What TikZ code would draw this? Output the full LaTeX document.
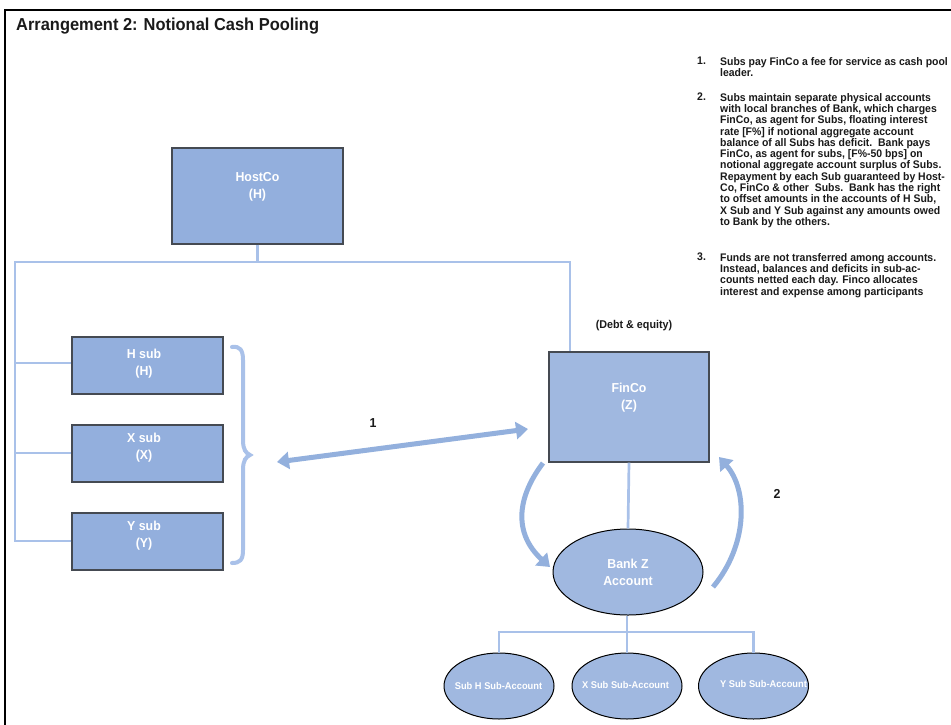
\documentclass[tikz,border=0pt]{standalone}
\usepackage{fontspec}
\setmainfont{Liberation Sans}[FakeStretch=0.95]
\usetikzlibrary{arrows.meta,shapes.geometric}
\definecolor{boxA}{HTML}{93AFDD}
\definecolor{boxB}{HTML}{A0B8E0}
\definecolor{conn}{HTML}{A9C1E9}
\definecolor{arr}{HTML}{93B0DD}
\definecolor{edge}{HTML}{454A52}
\definecolor{ink}{HTML}{1A1A1A}
\begin{document}
\begin{tikzpicture}[x=1pt,y=-1pt,
  box/.style={draw=edge, line width=1.3pt, fill=boxA, inner sep=0pt},
  oval/.style={ellipse, draw=black, line width=1pt, fill=boxB, inner sep=0pt},
  boxtext/.style={text=white, font=\fontsize{13}{17}\selectfont\bfseries, align=center, inner sep=0pt},
  smalltext/.style={text=white, font=\fontsize{9.8}{11}\selectfont\bfseries, inner sep=0pt},
  conn/.style={draw=conn, line width=2.7pt},
  bigarrow/.style={draw=arr, line width=5pt, -{Triangle[width=17pt,length=12pt]}},
  note/.style={text=ink, font=\fontsize{11}{11.3}\selectfont\bfseries, align=left, inner sep=0pt, anchor=north west},
  lbl/.style={text=ink, font=\fontsize{13}{15}\selectfont\bfseries, inner sep=0pt}]
\useasboundingbox (0,0) rectangle (951,724);
\fill[white] (0,0) rectangle (951,724);
% frame
\draw[black, line width=2.5pt] (5,726) -- (5,10) -- (953,10);
\node[anchor=west, text=ink, font=\fontsize{17.3}{19}\selectfont\bfseries, inner sep=0pt] (title) at (16,26) {Arrangement 2: Notional Cash Pooling};

% boxes
\node[box, minimum width=171pt, minimum height=96pt] (host) at (257.5,196) {};
\node[boxtext] (hostT) at (257.5,187) {HostCo\\(H)};
\node[box, minimum width=151pt, minimum height=57pt] (hsub) at (147.5,365.5) {};
\node[boxtext] (hsubT) at (144,363.5) {H sub\\(H)};
\node[box, minimum width=151pt, minimum height=57pt] (xsub) at (147.5,453.5) {};
\node[boxtext] (xsubT) at (144,448) {X sub\\(X)};
\node[box, minimum width=151pt, minimum height=57pt] (ysub) at (147.5,541.5) {};
\node[boxtext] (ysubT) at (144,536) {Y sub\\(Y)};
\node[box, fill=boxB, minimum width=160pt, minimum height=110pt] (finco) at (629,407) {};
\node[boxtext] (fincoT) at (629,398) {FinCo\\(Z)};
\node[oval, minimum width=150pt, minimum height=86pt] (bank) at (628,572) {};
\node[boxtext] (bankT) at (628,572.5) {Bank Z\\Account};
\node[oval, minimum width=110pt, minimum height=66pt] (sa1) at (499,686) {};
\node[smalltext] (sa1T) at (498.5,686) {Sub H Sub-Account};
\node[oval, minimum width=110pt, minimum height=66pt] (sa2) at (627,686) {};
\node[smalltext] (sa2T) at (625.5,685) {X Sub Sub-Account};
\node[oval, minimum width=110pt, minimum height=66pt] (sa3) at (753.5,686) {};
\node[smalltext] (sa3T) at (763.5,684) {Y Sub Sub-Account};

% tree connectors
\coordinate (hj) at (257.5,262);
\coordinate (lj) at (15,262);
\coordinate (fj) at (570,262);
\draw[conn] (host.south) -- (hj);
\draw[conn, line join=miter] (ysub.west |- 0,541) -- (15,541) -- (lj) -- (fj) -- (fj |- finco.north);
\draw[conn] (15,363) -- (hsub.west |- 0,363);
\draw[conn] (15,453) -- (xsub.west |- 0,453);
\draw[conn] (finco.south) -- (bank.north);
\coordinate (bj) at (627,632);
\draw[conn] (bank.south -| bj) -- (bj);
\draw[conn, line join=miter] (sa1.north) -- (sa1.north |- bj) -- (sa3.north |- bj) -- (sa3.north);
\draw[conn] (bj) -- (sa2.north);

% brace
\draw[draw=conn, line width=4pt, line cap=round] (232,347) .. controls (240,346) and (243,350) .. (243,360) -- (243,440) .. controls (243,450) and (246,453) .. (250,455) .. controls (246,457) and (243,460) .. (243,470) -- (243,550) .. controls (243,560) and (240,563) .. (232,563);

% arrows
\coordinate (a1) at (277,462);
\coordinate (a2) at (528,429);
\draw[bigarrow, {Triangle[width=17pt,length=12pt]}-{Triangle[width=17pt,length=12pt]}] (a1) -- (a2);
\node[lbl] (one) at (373,423) {1};
\coordinate (c1) at (543,463);
\coordinate (c2) at (550,567);
\draw[bigarrow] (c1) .. controls (515,500) and (515,535) .. (c2);
\coordinate (c3) at (713,587);
\coordinate (c4) at (719,457);
\draw[bigarrow] (c3) .. controls (748,545) and (748,490) .. (c4);
\node[lbl] (two) at (777,494) {2};
\node[text=ink, font=\fontsize{11.3}{13}\selectfont\bfseries, inner sep=0pt] (debt) at (634,326) {(Debt \& equity)};

% notes
\node[note] (n1) at (697,57) {1.};
\node[note] (t1) at (720,57) {Subs pay FinCo a fee for service as cash pool\\leader.};
\node[note] (n2) at (697,93) {2.};
\node[note] (t2) at (720,93) {Subs maintain separate physical accounts\\with local branches of Bank, which charges\\FinCo, as agent for Subs, floating interest\\rate [F\%] if notional aggregate account\\balance of all Subs has deficit.\ \ Bank pays\\FinCo, as agent for subs, [F\%-50 bps] on\\notional aggregate account surplus of Subs.\\Repayment by each Sub guaranteed by Host-\\Co, FinCo \& other\ \ Subs.\ \ Bank has the right\\to offset amounts in the accounts of H Sub,\\X Sub and Y Sub against any amounts owed\\to Bank by the others.};
\node[note] (n3) at (697,253) {3.};
\node[note] (t3) at (720,253) {Funds are not transferred among accounts.\\Instead, balances and deficits in sub-ac-\\counts netted each day. Finco allocates\\interest and expense among participants};
\end{tikzpicture}
\end{document}
